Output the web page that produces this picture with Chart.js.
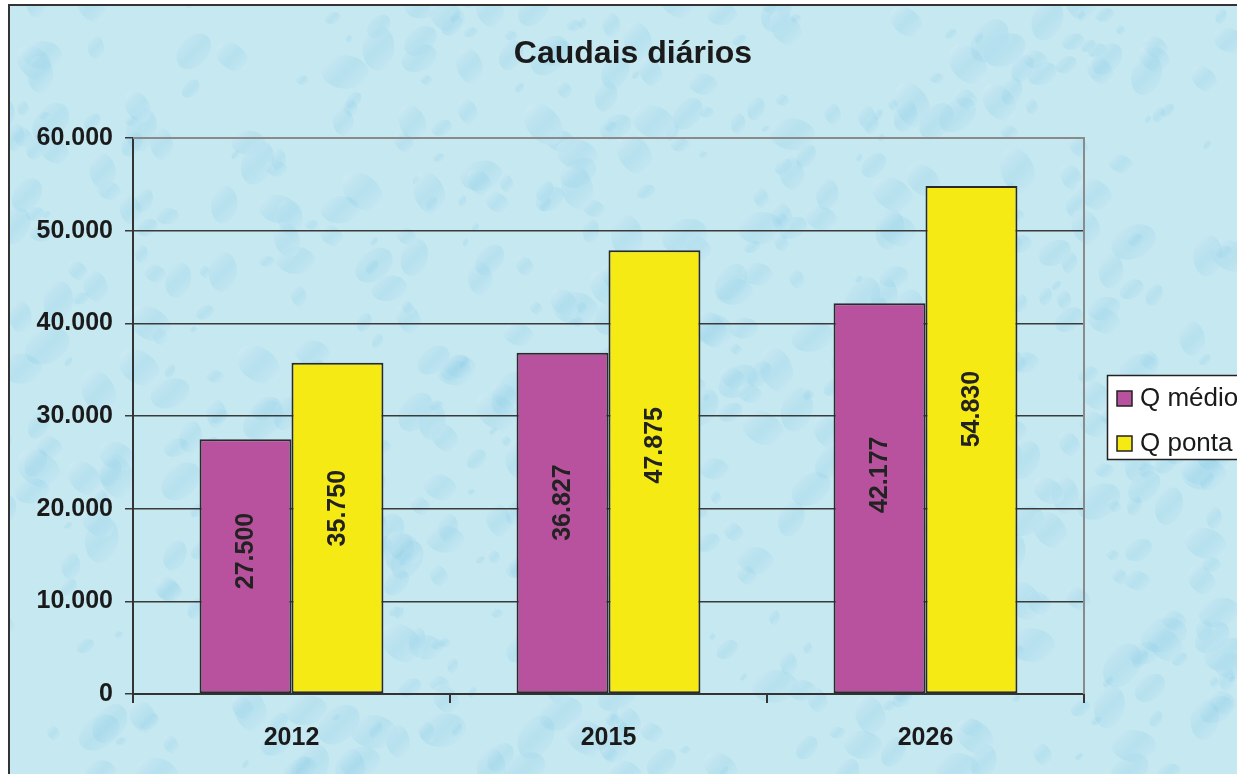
<!DOCTYPE html>
<html>
<head>
<meta charset="utf-8">
<script src="https://cdn.jsdelivr.net/npm/chart.js@4.4.1/dist/chart.umd.min.js"></script>
<style>
  html, body { margin: 0; padding: 0; background: #ffffff; overflow: hidden; }
  #wrap { width: 1237px; height: 774px; position: relative; }
</style>
</head>
<body>
<div id="wrap"><canvas id="grafico" width="1237" height="774"></canvas></div>
<script>
// dados do gráfico
const anos = ['2012', '2015', '2026'];
const qMedio = [27500, 36827, 42177];
const qPonta = [35750, 47875, 54830];
const nomesSeries = ['Q médio', 'Q ponta'];
const titulo = 'Caudais diários';

const FONTE = 'Arial, "Liberation Sans", Helvetica, sans-serif';

function fmt(v) {
    return Math.round(v).toString().replace(/\B(?=(\d{3})+(?!\d))/g, '.');
}

function hash(n) {
    return ((Math.sin(n) * 43758.5453) % 1 + 1) % 1;
}

// fundo com gotas de água (decorativo) + título
const fundoPlugin = {
    id: 'fundo',
    beforeDraw(chart) {
        const c = chart.ctx;
        const w = chart.width, h = chart.height;
        c.save();
        c.fillStyle = '#ffffff';
        c.fillRect(0, 0, w, h);
        c.fillStyle = '#c6e8f1';
        c.fillRect(9, 5, w - 9, h - 5);
        c.beginPath();
        c.rect(9, 5, w - 9, h - 5);
        c.clip();
        for (let i = 0; i < 700; i++) {
            const x = hash(i * 12.9898) * w;
            const y = hash(i * 78.233 + 1.7) * h;
            const r = 4 + hash(i * 3.17 + 0.3) * 20;
            const g = c.createLinearGradient(x - r, y - r, x + r, y + r);
            g.addColorStop(0, 'rgba(255,255,255,0.4)');
            g.addColorStop(0.5, 'rgba(130,200,228,0.22)');
            g.addColorStop(1, 'rgba(240,252,255,0.45)');
            c.fillStyle = g;
            c.beginPath();
            c.ellipse(x, y, r, r * 0.7, hash(i * 5.1) * Math.PI, 0, Math.PI * 2);
            c.fill();
        }
        c.restore();
        c.save();
        c.strokeStyle = '#333333';
        c.lineWidth = 2;
        c.beginPath();
        c.moveTo(9, h);
        c.lineTo(9, 5);
        c.lineTo(w, 5);
        c.stroke();
        c.font = 'bold 32px ' + FONTE;
        c.fillStyle = '#1a1a1a';
        c.textAlign = 'center';
        c.textBaseline = 'alphabetic';
        c.fillText(titulo, 633, 63);
        c.restore();
    },
    beforeDatasetsDraw(chart) {
        const a = chart.chartArea;
        const c = chart.ctx;
        c.save();
        c.strokeStyle = '#8a8a8a';
        c.lineWidth = 2;
        c.beginPath();
        c.moveTo(a.left, a.top);
        c.lineTo(a.right, a.top);
        c.lineTo(a.right, a.bottom);
        c.stroke();
        c.restore();
    }
};

// rótulos verticais dentro das barras
const rotulosPlugin = {
    id: 'rotulos',
    afterDatasetsDraw(chart) {
        const c = chart.ctx;
        c.save();
        c.font = 'bold 25px ' + FONTE;
        c.fillStyle = '#222222';
        c.textAlign = 'center';
        c.textBaseline = 'middle';
        chart.data.datasets.forEach((ds, di) => {
            chart.getDatasetMeta(di).data.forEach((bar, i) => {
                const p = bar.getProps(['x', 'y', 'base'], true);
                c.save();
                c.translate(p.x, p.y + (p.base - p.y) * 0.44);
                c.rotate(-Math.PI / 2);
                c.fillText(fmt(ds.data[i]), 0, 1);
                c.restore();
            });
        });
        c.restore();
    }
};

// legenda com caixa, cortada à direita como no original
const legendaPlugin = {
    id: 'legenda',
    afterDraw(chart) {
        const c = chart.ctx;
        c.save();
        c.fillStyle = '#ffffff';
        c.fillRect(1107, 375, 140, 84);
        c.strokeStyle = '#222222';
        c.lineWidth = 1.5;
        c.strokeRect(1107.5, 375.5, 140, 84);
        c.font = '26px ' + FONTE;
        c.textBaseline = 'middle';
        c.textAlign = 'left';
        const ys = [398, 443];
        chart.data.datasets.forEach((ds, i) => {
            c.fillStyle = ds.backgroundColor;
            c.fillRect(1117, ys[i] - 7, 15, 15);
            c.strokeStyle = '#222222';
            c.lineWidth = 1.5;
            c.strokeRect(1117, ys[i] - 7, 15, 15);
            c.fillStyle = '#1a1a1a';
            c.fillText(ds.label, 1140, ys[i] + 1);
        });
        c.restore();
    }
};

const ctx = document.getElementById('grafico').getContext('2d');

new Chart(ctx, {
    type: 'bar',
    data: {
        labels: anos,
        datasets: [{
            label: nomesSeries[0],
            data: qMedio,
            backgroundColor: '#b8529e',
            borderColor: '#2a2a2a',
            borderWidth: 2,
            borderSkipped: false
        }, {
            label: nomesSeries[1],
            data: qPonta,
            backgroundColor: '#f5ea14',
            borderColor: '#2a2a2a',
            borderWidth: 2,
            borderSkipped: false
        }]
    },
    options: {
        responsive: false,
        animation: false,
        devicePixelRatio: 1,
        layout: { padding: { top: 138, right: 153, bottom: 0, left: 0 } },
        categoryPercentage: 0.58,
        barPercentage: 1.0,
        plugins: {
            legend: { display: false },
            tooltip: { enabled: false },
            title: { display: false }
        },
        scales: {
            x: {
                offset: true,
                grid: {
                    offset: true,
                    drawOnChartArea: false,
                    drawTicks: true,
                    tickLength: 9,
                    color: '#333333',
                    lineWidth: 2
                },
                border: { color: '#333333', width: 2 },
                ticks: {
                    color: '#1a1a1a',
                    font: { family: FONTE, size: 25, weight: 'bold' },
                    padding: 20
                },
                afterFit(scale) { scale.height = 80; }
            },
            y: {
                min: 0,
                max: 60000,
                ticks: {
                    stepSize: 10000,
                    color: '#1a1a1a',
                    font: { family: FONTE, size: 25, weight: 'bold' },
                    padding: 12,
                    callback: v => fmt(v)
                },
                grid: {
                    color: '#3a3a3a',
                    lineWidth: 1.5,
                    tickLength: 8
                },
                border: { color: '#333333', width: 2 },
                afterFit(scale) { scale.width = 133; }
            }
        }
    },
    plugins: [fundoPlugin, rotulosPlugin, legendaPlugin]
});
</script>
</body>
</html>
